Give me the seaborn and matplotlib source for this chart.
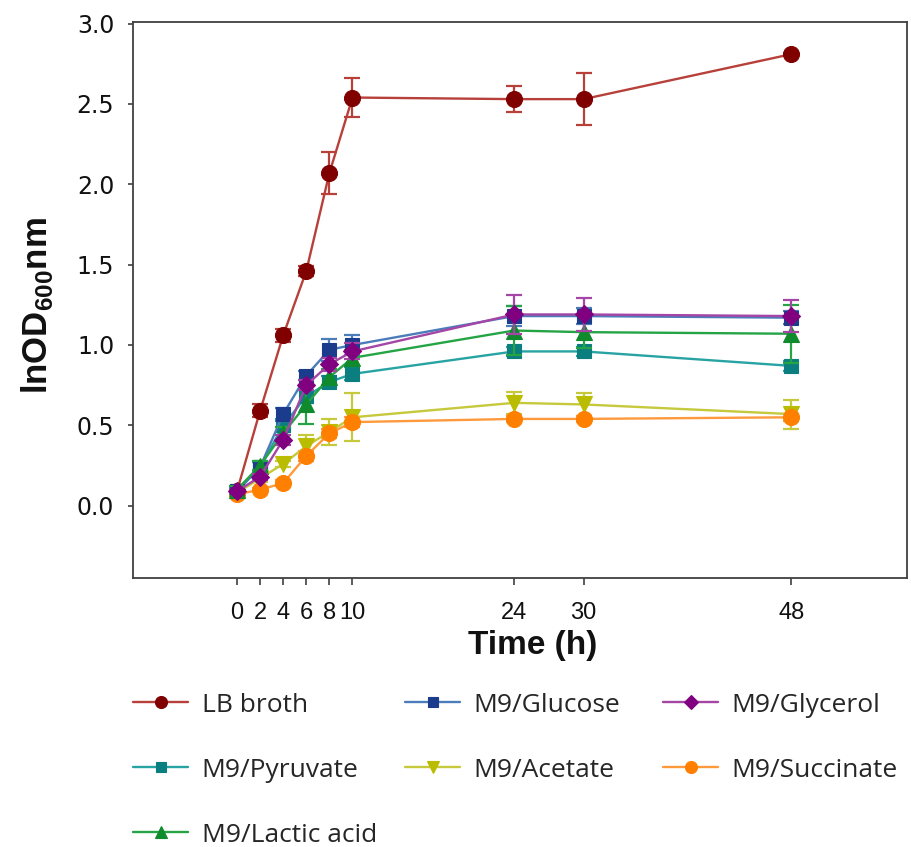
import numpy as np
import pandas as pd
import matplotlib
matplotlib.use("Agg")
import matplotlib.pyplot as plt
import seaborn as sns

# ---------------- data ----------------
time_h = [0, 2, 4, 6, 8, 10, 24, 30, 48]

media = ["LB broth", "M9/Glucose", "M9/Glycerol", "M9/Pyruvate",
         "M9/Acetate", "M9/Succinate", "M9/Lactic acid"]

lb_broth = [0.09, 0.59, 1.06, 1.46, 2.07, 2.54, 2.53, 2.53, 2.81]
lb_broth_sd = [0.01, 0.04, 0.04, 0.03, 0.13, 0.12, 0.08, 0.16, 0.01]

glucose = [0.09, 0.24, 0.57, 0.81, 0.97, 1.00, 1.18, 1.18, 1.17]
glucose_sd = [0.02, 0.03, 0.04, 0.03, 0.07, 0.06, 0.06, 0.05, 0.04]

glycerol = [0.09, 0.18, 0.41, 0.75, 0.88, 0.96, 1.19, 1.19, 1.18]
glycerol_sd = [0.01, 0.02, 0.03, 0.03, 0.04, 0.05, 0.12, 0.10, 0.10]

pyruvate = [0.09, 0.24, 0.50, 0.68, 0.77, 0.82, 0.96, 0.96, 0.87]
pyruvate_sd = [0.02, 0.03, 0.04, 0.04, 0.04, 0.04, 0.03, 0.03, 0.03]

acetate = [0.08, 0.17, 0.26, 0.37, 0.46, 0.55, 0.64, 0.63, 0.57]
acetate_sd = [0.01, 0.02, 0.02, 0.07, 0.08, 0.15, 0.07, 0.07, 0.09]

succinate = [0.07, 0.10, 0.14, 0.31, 0.45, 0.52, 0.54, 0.54, 0.55]
succinate_sd = [0.01, 0.01, 0.02, 0.03, 0.03, 0.03, 0.02, 0.02, 0.02]

lactic = [0.10, 0.25, 0.45, 0.63, 0.80, 0.92, 1.09, 1.08, 1.07]
lactic_sd = [0.02, 0.03, 0.04, 0.12, 0.05, 0.05, 0.15, 0.10, 0.18]

x_ticks = [0, 2, 4, 6, 8, 10, 24, 30, 48]
y_ticks = [0.0, 0.5, 1.0, 1.5, 2.0, 2.5, 3.0]

values = [lb_broth, glucose, glycerol, pyruvate, acetate, succinate, lactic]
sds = [lb_broth_sd, glucose_sd, glycerol_sd, pyruvate_sd, acetate_sd,
       succinate_sd, lactic_sd]

rows = []
for name, vals, sd in zip(media, values, sds):
    for t, v, s in zip(time_h, vals, sd):
        rows.append({"Time": t, "lnOD": v, "SD": s, "Medium": name})
df = pd.DataFrame(rows)

# ---------------- styles ----------------
line_colors = {
    "LB broth": "#B8403B",
    "M9/Glucose": "#4A7DBA",
    "M9/Glycerol": "#A545A5",
    "M9/Pyruvate": "#28A3A3",
    "M9/Acetate": "#C6C93C",
    "M9/Succinate": "#FF9A3C",
    "M9/Lactic acid": "#25A445",
}
marker_colors = {
    "LB broth": "#800000",
    "M9/Glucose": "#1B3C8C",
    "M9/Glycerol": "#800080",
    "M9/Pyruvate": "#0B7F7F",
    "M9/Acetate": "#B9BC00",
    "M9/Succinate": "#FF8000",
    "M9/Lactic acid": "#0F8A2C",
}
markers = {
    "LB broth": "o",
    "M9/Glucose": "s",
    "M9/Glycerol": "D",
    "M9/Pyruvate": "s",
    "M9/Acetate": "v",
    "M9/Succinate": "o",
    "M9/Lactic acid": "^",
}
msizes = {
    "LB broth": 11.5,
    "M9/Glucose": 10,
    "M9/Glycerol": 9.5,
    "M9/Pyruvate": 10,
    "M9/Acetate": 11.5,
    "M9/Succinate": 11.5,
    "M9/Lactic acid": 11.5,
}
zorders = {
    "LB broth": 2,
    "M9/Glucose": 4,
    "M9/Glycerol": 6,
    "M9/Pyruvate": 3,
    "M9/Acetate": 3,
    "M9/Succinate": 3,
    "M9/Lactic acid": 5,
}

sns.set_style("ticks")
plt.rcParams["font.family"] = ["Liberation Sans", "DejaVu Sans"]
plt.rcParams["mathtext.fontset"] = "custom"
plt.rcParams["mathtext.rm"] = "Liberation Sans:bold"
plt.rcParams["mathtext.bf"] = "Liberation Sans:bold"

W, H = 911, 847
fig = plt.figure(figsize=(W / 100, H / 100), dpi=100)
ax = fig.add_axes([133 / W, 1 - 578 / H, 774 / W, 556 / H])

for name in media:
    sub = df[df["Medium"] == name]
    sns.lineplot(data=sub, x="Time", y="lnOD", ax=ax, color=line_colors[name],
                 marker=markers[name], markersize=msizes[name],
                 markerfacecolor=marker_colors[name],
                 markeredgecolor=marker_colors[name], markeredgewidth=0.8,
                 linewidth=1.7, label=name, errorbar=None,
                 zorder=zorders[name] + 0.5)
    ax.errorbar(sub["Time"], sub["lnOD"], yerr=sub["SD"], fmt="none",
                ecolor=line_colors[name], elinewidth=1.6, capsize=6,
                capthick=1.6, zorder=zorders[name])

handles, labels = ax.get_legend_handles_labels()
if ax.get_legend() is not None:
    ax.get_legend().remove()

ax.set_xlim(-9, 58)
ax.set_ylim(-0.45, 3.01)
ax.set_xticks(x_ticks)
ax.set_xticklabels([str(t) for t in x_ticks], fontsize=17,
                   family=["Liberation Sans"])
ax.set_yticks(y_ticks)
ax.set_yticklabels([f"{v:.1f}" for v in y_ticks], fontsize=17,
                   family=["DejaVu Sans"])

for sp in ax.spines.values():
    sp.set_visible(True)
    sp.set_color("#404040")
    sp.set_linewidth(1.3)
ax.tick_params(axis="x", direction="out", length=5, width=1.2,
               colors="#404040", labelcolor="#111111", pad=12)
ax.tick_params(axis="y", direction="out", length=3.5, width=1.2,
               colors="#404040", labelcolor="#111111", pad=10)

ax.set_xlabel("Time (h)", fontsize=24, fontweight="bold", color="#111111")
ax.xaxis.set_label_coords((533 - 133) / 774, (578 - 630) / 556)
ax.set_ylabel(r"lnOD$_{\mathbf{600}}$nm", fontsize=25, fontweight="bold",
              color="#111111")
ax.yaxis.set_label_coords((55 - 133) / 774, 0.49)

# legend entries laid out in a 3-column grid below the axes
col_x = [133, 405, 663]
row_y = [705, 770, 835]
positions = [(0, 0), (1, 0), (2, 0), (0, 1), (1, 1), (2, 1), (0, 2)]
for h, lab, (c, r) in zip(handles, labels, positions):
    fig.legend([h], [lab], loc="center left",
               bbox_to_anchor=(col_x[c] / W, 1 - row_y[r] / H),
               frameon=False, borderpad=0, borderaxespad=0,
               handlelength=2.1, handletextpad=0.5, markerscale=0.75,
               prop={"family": ["Open Sans", "DejaVu Sans"], "size": 19})

fig.savefig("out.png", dpi=100)
